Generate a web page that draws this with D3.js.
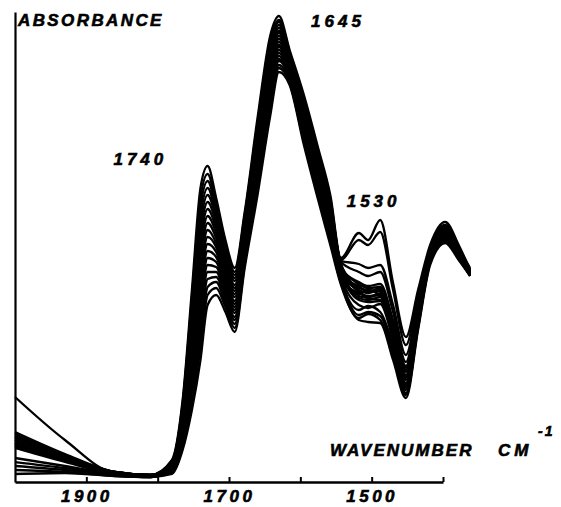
<!DOCTYPE html>
<html>
<head>
<meta charset="utf-8">
<script src="https://cdn.jsdelivr.net/npm/d3@7"></script>
<style>
  body { margin: 0; background: #fff; }
  text { font-family: "Liberation Sans", Arial, sans-serif; font-weight: bold; font-style: italic; fill: #000; stroke: #000; stroke-width: 0.6px; }
</style>
</head>
<body>
<div id="chartContainer"></div>
<script>
// wavenumber grid (cm-1), shared by every spectrum
var wavenumbers = [2000, 1930, 1860, 1810, 1780, 1765, 1752, 1740, 1730, 1718, 1705, 1692, 1678, 1660, 1642, 1630,
                   1615, 1595, 1575, 1558, 1543, 1518, 1505, 1488, 1470, 1452, 1435, 1418, 1397, 1378, 1362];

// absorbance x1000
var spectrum01 = [170, 84, 18, 14, 44, 164, 384, 588, 632, 568, 484, 428, 540, 728, 894, 932, 864, 774, 668, 574, 448, 498, 484, 524, 398, 290, 384, 474, 520, 474, 424];
var spectrum02 = [92, 52, 20, 14, 42, 158, 370, 568, 616, 556, 476, 420, 534, 718, 884, 924, 860, 768, 662, 568, 444, 484, 474, 500, 384, 274, 372, 468, 514, 468, 428];
var spectrum03 = [84, 48, 18, 12, 40, 152, 358, 550, 602, 546, 468, 414, 528, 712, 876, 920, 856, 762, 656, 562, 442, 436, 428, 434, 354, 254, 360, 464, 510, 464, 420];
var spectrum04 = [100, 56, 20, 14, 40, 148, 346, 532, 588, 536, 460, 408, 522, 704, 868, 914, 852, 758, 652, 558, 440, 420, 412, 420, 340, 240, 352, 460, 506, 464, 424];
var spectrum05 = [74, 44, 18, 12, 38, 144, 334, 516, 574, 528, 454, 402, 516, 696, 860, 908, 850, 752, 646, 552, 436, 388, 384, 380, 314, 220, 340, 454, 502, 460, 420];
var spectrum06 = [88, 50, 20, 14, 36, 138, 322, 498, 560, 518, 446, 394, 510, 688, 852, 902, 846, 748, 640, 548, 434, 380, 372, 376, 304, 208, 334, 452, 500, 456, 416];
var spectrum07 = [48, 32, 16, 12, 36, 132, 310, 482, 546, 508, 440, 388, 506, 680, 844, 898, 842, 742, 636, 542, 432, 396, 388, 390, 320, 228, 344, 456, 504, 460, 424];
var spectrum08 = [80, 46, 18, 12, 34, 128, 298, 464, 532, 498, 432, 382, 500, 672, 836, 892, 838, 738, 630, 538, 428, 372, 368, 364, 296, 198, 328, 448, 496, 454, 418];
var spectrum09 = [72, 42, 16, 12, 32, 122, 286, 446, 518, 488, 424, 376, 494, 664, 828, 886, 836, 732, 626, 532, 426, 400, 392, 396, 324, 232, 346, 458, 504, 462, 422];
var spectrum10 = [96, 54, 20, 14, 32, 118, 274, 430, 504, 478, 418, 370, 488, 658, 820, 880, 832, 728, 620, 528, 424, 364, 360, 362, 290, 192, 324, 446, 494, 452, 416];
var spectrum11 = [68, 40, 16, 12, 30, 112, 262, 412, 490, 470, 410, 362, 482, 650, 812, 874, 828, 722, 614, 522, 420, 384, 378, 384, 308, 214, 336, 452, 498, 458, 420];
var spectrum12 = [40, 28, 14, 10, 28, 108, 250, 396, 476, 460, 404, 356, 478, 642, 804, 870, 824, 718, 610, 518, 418, 376, 384, 372, 300, 204, 332, 450, 496, 456, 418];
var spectrum13 = [76, 44, 18, 12, 26, 102, 238, 378, 462, 450, 396, 350, 472, 634, 796, 864, 822, 712, 604, 512, 416, 368, 364, 370, 294, 196, 326, 448, 492, 452, 414];
var spectrum14 = [84, 48, 18, 12, 26, 98, 226, 360, 448, 440, 388, 344, 466, 626, 788, 858, 818, 708, 600, 508, 412, 354, 348, 356, 284, 188, 320, 444, 490, 450, 416];
var spectrum15 = [32, 24, 14, 10, 24, 92, 214, 344, 434, 430, 382, 338, 460, 618, 780, 852, 814, 702, 594, 502, 410, 392, 380, 388, 316, 224, 342, 454, 500, 460, 422];
var spectrum16 = [70, 42, 16, 12, 22, 88, 202, 326, 420, 420, 374, 330, 454, 610, 772, 846, 810, 698, 588, 498, 406, 344, 352, 340, 274, 184, 316, 442, 488, 448, 414];
var spectrum17 = [24, 20, 12, 10, 22, 82, 190, 310, 406, 410, 368, 324, 450, 604, 764, 842, 808, 692, 584, 492, 404, 334, 340, 332, 264, 178, 312, 440, 486, 448, 412];
var spectrum18 = [90, 52, 20, 14, 20, 76, 176, 288, 390, 400, 358, 316, 442, 594, 754, 834, 804, 686, 578, 486, 402, 378, 370, 374, 302, 210, 334, 452, 498, 456, 418];
var spectrum19 = [78, 44, 18, 12, 18, 70, 160, 268, 374, 388, 350, 308, 436, 584, 746, 828, 798, 680, 572, 480, 398, 328, 336, 324, 254, 174, 308, 438, 482, 446, 414];
var spectrum20 = [16, 18, 12, 10, 16, 64, 144, 244, 354, 374, 340, 300, 428, 574, 734, 820, 794, 674, 564, 474, 394, 324, 320, 318, 244, 168, 304, 434, 478, 444, 412];

var spectra = [spectrum01, spectrum02, spectrum03, spectrum04, spectrum05, spectrum06, spectrum07, spectrum08, spectrum09, spectrum10,
               spectrum11, spectrum12, spectrum13, spectrum14, spectrum15, spectrum16, spectrum17, spectrum18, spectrum19, spectrum20];

// band labels: text, wavenumber of left edge, absorbance of baseline (x1000)
var peakLabels = ["1740", "1645", "1530"];
var peakLabelX = [1862, 1585, 1535];
var peakLabelY = [634, 910, 550];

var tickValues = [1900, 1800, 1700, 1600, 1500, 1400];
var tickLabels = ["1900", "", "1700", "", "1500", ""];

function drawChart()
{
    const w = 561, h = 507;

    const svg = d3.select("#chartContainer")
                    .append("svg")
                    .attr("width", w)
                    .attr("height", h)
                    .style("background", "#fff");

    const xScale = d3.scaleLinear()
                        .domain([2000, 1400])
                        .range([15, 443]);

    const yScale = d3.scaleLinear()
                        .domain([0, 940])
                        .range([482, 12]);

    //spectra
    const line = d3.line()
                    .x((d, i) => xScale(wavenumbers[i]))
                    .y(d => yScale(d))
                    .curve(d3.curveMonotoneX);

    svg.append("g")
        .selectAll("path")
        .data(spectra)
        .join("path")
        .attr("d", d => line(d))
        .attr("fill", "none")
        .attr("stroke", "#000")
        .attr("stroke-width", 2.3)
        .attr("stroke-linejoin", "round");

    //x axis, ticks pointing up
    const xAxis = svg.append("g")
        .attr("transform", `translate(0, ${yScale(0)})`)
        .call(d3.axisBottom(xScale)
                .tickValues(tickValues)
                .tickSizeInner(-5)
                .tickSizeOuter(0)
                .tickPadding(8)
                .tickFormat((d, i) => tickLabels[i]));
    xAxis.select(".domain").attr("stroke-width", 2.5);
    xAxis.selectAll(".tick line").attr("stroke-width", 2);
    xAxis.selectAll("text")
        .style("font-size", "17px")
        .style("letter-spacing", "3.5px")
        .attr("fill", "#000")
        .attr("font-family", null);

    //y axis, just the line
    const yAxis = svg.append("g")
        .attr("transform", `translate(${xScale(2000)}, 0)`)
        .call(d3.axisLeft(yScale).tickValues([]).tickSizeOuter(0));
    yAxis.select(".domain").attr("stroke-width", 2.2);

    //titles
    svg.append("text")
        .attr("x", 18)
        .attr("y", 26)
        .style("font-size", "17px")
        .style("letter-spacing", "2.4px")
        .text("ABSORBANCE");

    svg.append("text")
        .attr("x", 330)
        .attr("y", 456)
        .style("font-size", "17px")
        .style("letter-spacing", "2px")
        .text("WAVENUMBER");

    svg.append("text")
        .attr("x", 498)
        .attr("y", 456)
        .style("font-size", "17px")
        .style("letter-spacing", "4px")
        .text("CM");

    svg.append("text")
        .attr("x", 538)
        .attr("y", 436)
        .style("font-size", "14px")
        .style("letter-spacing", "2px")
        .text("-1");

    //band labels
    svg.append("g")
        .selectAll("text")
        .data(peakLabels)
        .join("text")
        .attr("x", (d, i) => xScale(peakLabelX[i]))
        .attr("y", (d, i) => yScale(peakLabelY[i]))
        .style("font-size", "17px")
        .style("letter-spacing", "4px")
        .text(d => d);
}

drawChart();
</script>
</body>
</html>
